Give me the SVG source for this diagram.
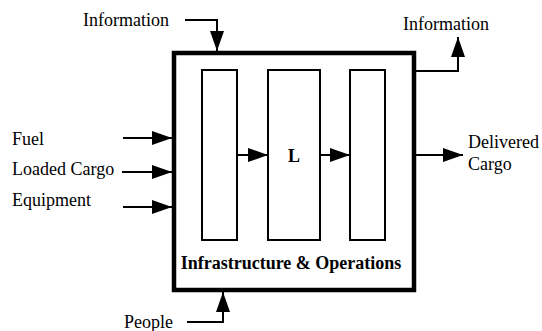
<svg xmlns="http://www.w3.org/2000/svg" width="542" height="331" viewBox="0 0 542 331">
  <style>
    .lbl { font-family: "Liberation Serif", "Times New Roman", serif; font-size: 18px; fill: #000; }
    .bold { font-weight: bold; }
    .frame { fill: none; stroke: #000; stroke-width: 4.5; }
    .stage { fill: #fff; stroke: #000; stroke-width: 2; }
    .flow { fill: none; stroke: #000; stroke-width: 2; marker-end: url(#head); }
  </style>
  <defs>
    <marker id="head" viewBox="0 0 20 14" refX="20" refY="7" markerWidth="20" markerHeight="14" markerUnits="userSpaceOnUse" orient="auto">
      <path d="M0,0 L20,7 L0,14 Z" fill="#000"/>
    </marker>
  </defs>
  <rect width="542" height="331" fill="#fff"/>

  <!-- main process block -->
  <g id="process">
    <rect class="frame" x="174" y="53" width="240" height="237"/>
    <text class="lbl bold" x="291" y="269" text-anchor="middle">Infrastructure &amp; Operations</text>
  </g>

  <g id="stage1">
    <rect class="stage" x="202" y="70" width="35" height="170"/>
  </g>
  <g id="stage2">
    <rect class="stage" x="268" y="70" width="52" height="170"/>
    <text class="lbl bold" x="294" y="162" text-anchor="middle">L</text>
  </g>
  <g id="stage3">
    <rect class="stage" x="350" y="70" width="35" height="170"/>
  </g>

  <!-- external inputs and outputs -->
  <g id="info-in">
    <text class="lbl" x="83" y="26">Information</text>
  </g>
  <g id="info-out">
    <text class="lbl" x="403" y="30">Information</text>
  </g>
  <g id="fuel">
    <text class="lbl" x="12" y="145">Fuel</text>
  </g>
  <g id="loaded-cargo">
    <text class="lbl" x="12" y="175">Loaded Cargo</text>
  </g>
  <g id="equipment">
    <text class="lbl" x="12" y="206">Equipment</text>
  </g>
  <g id="delivered-cargo">
    <text class="lbl" x="468" y="148">Delivered</text>
    <text class="lbl" x="468" y="170">Cargo</text>
  </g>
  <g id="people">
    <text class="lbl" x="124" y="328">People</text>
  </g>

  <!-- connectors -->
  <g id="connectors">
    <path class="flow" d="M185,20 H217 V51"/>
    <path class="flow" d="M123,138 H172"/>
    <path class="flow" d="M122,172 H172"/>
    <path class="flow" d="M123,207 H172"/>
    <path class="flow" d="M416,71 H458 V37"/>
    <path class="flow" d="M416,155 H463"/>
    <path class="flow" d="M187,322 H223 V292"/>
    <path class="flow" d="M237,155 H268"/>
    <path class="flow" d="M320,155 H350"/>
  </g>
</svg>
